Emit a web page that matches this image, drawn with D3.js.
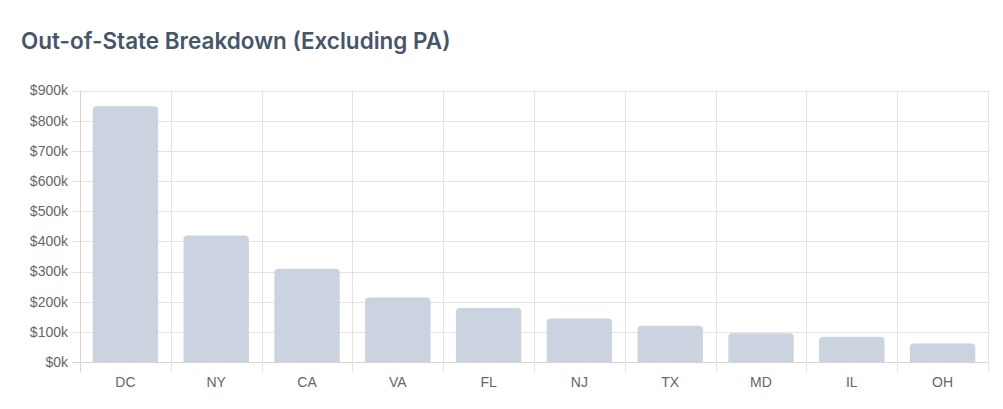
<!DOCTYPE html>
<html lang="en">
<head>
    <meta charset="UTF-8">
    <title>Out-of-State Breakdown</title>
    <script src="https://cdn.jsdelivr.net/npm/d3@7"></script>
    <style>
        html, body {
            margin: 0;
            padding: 0;
            background: #fff;
        }
        svg {
            display: block;
        }
    </style>
</head>
<body>
<script>
// data
const states = ['DC', 'NY', 'CA', 'VA', 'FL', 'NJ', 'TX', 'MD', 'IL', 'OH']
const amounts = [848000, 419000, 309000, 214000, 179000, 144000, 120000, 95000, 84000, 61000]
const yTicks = [0, 100000, 200000, 300000, 400000, 500000, 600000, 700000, 800000, 900000]

const W = 1003, H = 409
const margin = {left: 80, right: 15, top: 90.5, bottom: 47}

const svg = d3.select('body')
    .append('svg')
    .attr('width', W)
    .attr('height', H)

// title
svg.append('text')
    .attr('x', 21)
    .attr('y', 48.5)
    .attr('fill', '#475569')
    .attr('font-family', 'Inter, "Noto Sans", sans-serif')
    .attr('font-size', 22.5)
    .attr('font-weight', 600)
    .text('Out-of-State Breakdown (Excluding PA)')

const x = d3.scaleBand()
    .domain(states)
    .range([margin.left, W - margin.right])

const y = d3.scaleLinear()
    .domain([0, 900000])
    .range([H - margin.bottom, margin.top])

const gridColor = '#e3e3e3'
const tickColor = '#666'
const font = 'Arial, "Liberation Sans", sans-serif'

// horizontal grid + y tick marks
svg.append('g')
    .selectAll('line')
    .data(yTicks)
    .join('line')
    .attr('x1', margin.left - 8)
    .attr('x2', W - margin.right)
    .attr('y1', d => Math.round(y(d)) + 0.5)
    .attr('y2', d => Math.round(y(d)) + 0.5)
    .attr('stroke', d => d === 0 ? '#d4d4d4' : gridColor)

// vertical grid (category boundaries) + x tick marks
const bounds = states.map(s => x(s)).concat([W - margin.right])
svg.append('g')
    .selectAll('line')
    .data(bounds)
    .join('line')
    .attr('x1', d => Math.round(d) + 0.5)
    .attr('x2', d => Math.round(d) + 0.5)
    .attr('y1', margin.top)
    .attr('y2', H - margin.bottom + 10)
    .attr('stroke', (d, i) => i === 0 ? '#d4d4d4' : gridColor)

// y tick labels
svg.append('g')
    .selectAll('text')
    .data(yTicks)
    .join('text')
    .attr('x', margin.left - 12)
    .attr('y', d => y(d))
    .attr('dy', '0.35em')
    .attr('text-anchor', 'end')
    .attr('fill', tickColor)
    .attr('font-family', font)
    .attr('font-size', 14)
    .text(d => '$' + (d / 1000) + 'k')

// x tick labels
svg.append('g')
    .selectAll('text')
    .data(states)
    .join('text')
    .attr('x', d => x(d) + x.bandwidth() / 2)
    .attr('y', H - margin.bottom + 20)
    .attr('dy', '0.35em')
    .attr('text-anchor', 'middle')
    .attr('fill', tickColor)
    .attr('font-family', font)
    .attr('font-size', 14)
    .text(d => d)

// bars, rounded on top only
const barW = x.bandwidth() * 0.72
const r = 4
function barPath(x0, y0, w, h) {
    const p = d3.path()
    const rr = Math.min(r, h)
    p.moveTo(x0, y0 + h)
    p.lineTo(x0, y0 + rr)
    p.quadraticCurveTo(x0, y0, x0 + rr, y0)
    p.lineTo(x0 + w - rr, y0)
    p.quadraticCurveTo(x0 + w, y0, x0 + w, y0 + rr)
    p.lineTo(x0 + w, y0 + h)
    p.closePath()
    return p.toString()
}

svg.append('g')
    .selectAll('path')
    .data(states.map((s, i) => ({s, v: amounts[i]})))
    .join('path')
    .attr('d', d => {
        const x0 = x(d.s) + (x.bandwidth() - barW) / 2
        return barPath(x0, y(d.v), barW, y(0) - y(d.v))
    })
    .attr('fill', '#cbd3e0')
</script>
</body>
</html>
